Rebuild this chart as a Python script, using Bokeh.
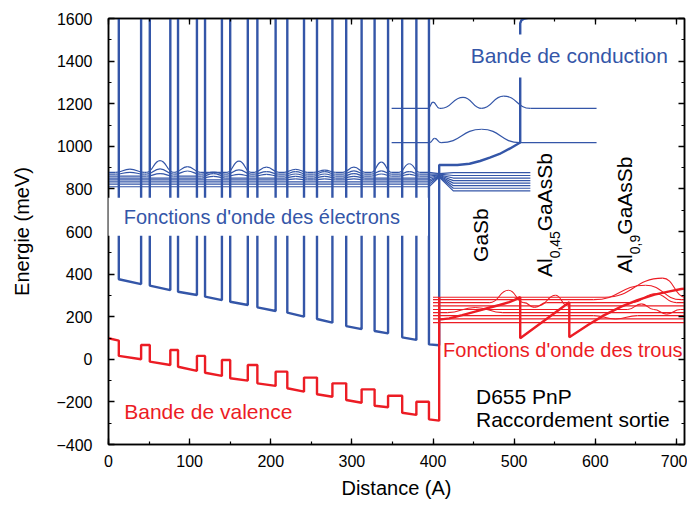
import math
from bokeh.plotting import figure
from bokeh.models import Label, LinearAxis, SingleIntervalTicker, Range1d, CustomLabelingPolicy
from bokeh.embed import file_html
from bokeh.resources import INLINE

BLUE = "#3456A8"
RED = "#EC1C24"
FONT = "Liberation Sans"

# ---------------- data ----------------
# superlattice wells (Angstrom) and band edges (meV)
well_left = [12.7, 50.9, 85.7, 119.0, 150.0, 183.5, 220.4, 257.0, 293.0, 328.0, 362.0, 395.0]
well_right = [40.2, 76.2, 109.0, 139.8, 171.7, 206.0, 241.0, 276.0, 312.0, 344.6, 379.5, 407.6]
cb_well_left = [376, 346, 317, 294, 270, 244, 219, 189, 156, 133, 103, 70]
cb_well_right = [353, 325, 302, 278, 255, 227, 200, 172, 142, 122, 91, 66]
cb_barrier = 2000  # barrier conduction band, above the plotted range
vb_well_left = [16, -11, -35, -63, -89, -113, -136, -164, -191, -218, -251, -282]
vb_well_right = [0, -27, -54, -78, -100, -125, -152, -176, -204, -225, -261, -288]
vb_barrier = [67, 44, 16, -3, -27, -58, -86, -113, -141, -171, -199]
vb_start_x = [0.0, 12.7]
vb_start_y = [99, 88]

# GaSb / AlGaAsSb conduction band
cb_out_x = [407.6, 430, 445, 458, 470, 482, 495, 507.5, 507.5, 509, 513, 520]
cb_out_y = [912, 912, 918, 931, 947, 964, 990, 1018, 1578, 1592, 1600, 1606]

# GaSb / AlGaAsSb valence band
vb_out_x = [407.6, 407.6, 407.6, 420, 436, 452, 469, 482, 494, 500, 507.5, 507.5,
            568, 568, 591, 610, 632, 652, 673, 690, 706, 720]
vb_out_y = [-288, 291, 186, 192, 207, 224, 242, 255, 268, 278, 292, 99,
            268, 104, 161, 205, 247, 278, 304, 318, 330, 335]

# electron wavefunctions (baseline levels, meV)
elec_level_left = [878, 869, 860, 851, 842, 833, 822, 810]
elec_level_knot = [872, 869, 866, 864, 862, 860, 858, 856]
elec_level_right = [876, 863, 851, 839, 827, 815, 803, 791]
elec_x_start, elec_x_flat_end, elec_x_knot, elec_x_spread, elec_x_end = 0, 395, 407.6, 425, 520
# bumps: well index, level index, amplitude (meV)
elec_bump_well = [0, 0, 1, 1, 1, 2, 2, 3, 3, 3, 4, 4, 4, 5, 5, 5, 6, 6, 6, 6,
                  7, 7, 7, 7, 8, 8, 8, 8, 9, 9, 9, 10, 10, 10, 6, 7, 8]
elec_bump_level = [0, 1, 0, 1, 2, 0, 1, 1, 2, 3, 0, 1, 2, 0, 1, 2, 0, 1, 2, 3,
                   0, 1, 2, 3, 0, 1, 2, 3, 0, 1, 2, 0, 1, 2, 4, 4, 4]
elec_bump_amp = [15, 9, 55, 25, 12, 27, 15, 10, 12, 8, 52, 20, 8, 24, 12, 8, 14, 12, 10, 8,
                 10, 12, 10, 8, 24, 16, 12, 8, 48, 16, 10, 40, 12, 8, 5, 5, 5]

# upper electron states
upper_levels = [1178, 1017]
upper_x = [349, 601.6]
upper_bump_level = [0, 0, 0, 1, 1]
upper_bump_left = [394, 410, 460, 396, 410]
upper_bump_peak = [400, 437, 487, 402, 460]
upper_bump_right = [408, 460, 520, 410, 507]
upper_bump_amp = [29, 52, 58, 20, 63]

# hole wavefunctions
hole_levels = [291, 280, 266, 251, 234, 219, 205, 190, 172]
hole_x = [400, 720]
hole_bump_level = [2, 2, 5, 3, 0, 1, 2, 4, 4, 6]
hole_bump_left = [470, 512, 418, 530, 612, 598, 645, 640, 672, 598]
hole_bump_peak = [493, 525, 452, 551, 683, 662, 674, 657, 688, 625]
hole_bump_right = [512, 540, 486, 566, 712, 706, 700, 672, 705, 652]
hole_bump_amp = [58, -22, 24, 50, 90, 68, 42, 26, -22, -16]

# ---------------- figure ----------------
p = figure(width=687, height=504, x_range=Range1d(0, 710), y_range=Range1d(-400, 1600),
           output_backend="svg", toolbar_location=None,
           min_border_left=108, min_border_right=3, min_border_top=18, min_border_bottom=60,
           outline_line_color="black", outline_line_width=1.5)
p.xgrid.visible = False
p.ygrid.visible = False

bottom = p.below[0]
left = p.left[0]
xt = SingleIntervalTicker(interval=100, num_minor_ticks=2)
yt = SingleIntervalTicker(interval=200, num_minor_ticks=2)
bottom.ticker = xt
left.ticker = yt

hide_all = CustomLabelingPolicy(code="""
    for (const i of indices) { indices.unset(i) }
    return indices
""")
top = LinearAxis(ticker=xt, major_label_policy=hide_all, major_label_standoff=0)
right = LinearAxis(ticker=yt, major_label_policy=hide_all, major_label_standoff=0)
p.add_layout(top, "above")
p.add_layout(right, "right")

for ax in (bottom, left, top, right):
    ax.axis_line_color = "black"
    ax.axis_line_width = 1.5
    ax.major_tick_in = 6
    ax.major_tick_out = 0
    ax.minor_tick_in = 3
    ax.minor_tick_out = 0
    ax.major_tick_line_width = 1.3
    ax.minor_tick_line_width = 1.2
    ax.major_label_text_font = FONT
    ax.major_label_text_font_size = "16px"
    ax.major_label_text_color = "black"
    ax.axis_label_text_font = FONT
    ax.axis_label_text_font_style = "normal"
    ax.axis_label_text_color = "black"
for ax in (top, right):
    ax.major_label_text_font_size = "0px"

bottom.axis_label = "Distance (A)"
bottom.axis_label_text_font_size = "20px"
bottom.major_label_standoff = 10
bottom.axis_label_standoff = 7
left.axis_label = "Energie (meV)"
left.axis_label_text_font_size = "20px"
left.major_label_standoff = 16
left.axis_label_standoff = 20


# ---------------- helpers ----------------
def add_bumps(lefts, peaks, rights, bases, amps, color, width):
    x0, y0, x1, y1, cx0, cy0, cx1, cy1 = [], [], [], [], [], [], [], []
    for l, c, r, b, a in zip(lefts, peaks, rights, bases, amps):
        # rising half
        x0.append(l); y0.append(b); x1.append(c); y1.append(b + a)
        cx0.append(l + (c - l) * 0.5); cy0.append(b); cx1.append(c - (c - l) * 0.5); cy1.append(b + a)
        # falling half
        x0.append(c); y0.append(b + a); x1.append(r); y1.append(b)
        cx0.append(c + (r - c) * 0.5); cy0.append(b + a); cx1.append(r - (r - c) * 0.5); cy1.append(b)
    p.bezier(x0=x0, y0=y0, x1=x1, y1=y1, cx0=cx0, cy0=cy0, cx1=cx1, cy1=cy1,
             line_color=color, line_width=width)


def gaps(x_start, x_end, intervals):
    segs = []
    cur = x_start
    for l, r in sorted(intervals):
        if l > cur:
            segs.append((cur, l))
        cur = max(cur, r)
    if x_end > cur:
        segs.append((cur, x_end))
    return segs


# ---------------- conduction band (superlattice + output) ----------------
cbx, cby = [], []
for i in range(len(well_left)):
    cbx += [well_left[i], well_left[i], well_right[i]]
    cby += [cb_barrier, cb_well_left[i], cb_well_right[i]]
    if i < len(well_left) - 1:
        cbx.append(well_right[i]); cby.append(cb_barrier)
cbx += cb_out_x
cby += cb_out_y
p.line(cbx, cby, line_color=BLUE, line_width=2.4)

# ---------------- valence band ----------------
vbx, vby = list(vb_start_x), list(vb_start_y)
for i in range(len(well_left)):
    vbx += [well_left[i], well_right[i]]
    vby += [vb_well_left[i], vb_well_right[i]]
    if i < len(vb_barrier):
        vbx += [well_right[i], well_left[i + 1]]
        vby += [vb_barrier[i], vb_barrier[i]]
vbx += vb_out_x
vby += vb_out_y
p.line(vbx, vby, line_color=RED, line_width=2.4)

# ---------------- electron wavefunctions ----------------
bl, bp, br, bb, ba = [], [], [], [], []
for w, lv, a in zip(elec_bump_well, elec_bump_level, elec_bump_amp):
    bl.append(well_left[w] - 4)
    br.append(well_right[w] + 4)
    bp.append((well_left[w] + well_right[w]) / 2)
    bb.append(elec_level_left[lv])
    ba.append(a)
add_bumps(bl, bp, br, bb, ba, BLUE, 1.2)
exs, eys = [], []
for lv in range(len(elec_level_left)):
    ints = [(bl[k], br[k]) for k in range(len(bl)) if elec_bump_level[k] == lv]
    segs = gaps(elec_x_start, elec_x_flat_end, ints)
    for s0, s1 in segs[:-1]:
        exs.append([s0, s1]); eys.append([elec_level_left[lv]] * 2)
    s0, s1 = segs[-1]
    exs.append([s0, s1, elec_x_knot, elec_x_spread, elec_x_end])
    eys.append([elec_level_left[lv], elec_level_left[lv], elec_level_knot[lv],
                elec_level_right[lv], elec_level_right[lv]])
p.multi_line(exs, eys, line_color=BLUE, line_width=1.2)

# ---------------- upper electron states ----------------
ub = [upper_levels[lv] for lv in upper_bump_level]
add_bumps(upper_bump_left, upper_bump_peak, upper_bump_right, ub, upper_bump_amp, BLUE, 1.2)
uxs, uys = [], []
for lv, E in enumerate(upper_levels):
    ints = [(upper_bump_left[k], upper_bump_right[k]) for k in range(len(upper_bump_level))
            if upper_bump_level[k] == lv]
    for s0, s1 in gaps(upper_x[0], upper_x[1], ints):
        uxs.append([s0, s1]); uys.append([E, E])
p.multi_line(uxs, uys, line_color=BLUE, line_width=1.2)

# ---------------- hole wavefunctions ----------------
hb = [hole_levels[lv] for lv in hole_bump_level]
add_bumps(hole_bump_left, hole_bump_peak, hole_bump_right, hb, hole_bump_amp, RED, 1.1)
hxs, hys = [], []
for lv, E in enumerate(hole_levels):
    ints = [(hole_bump_left[k], hole_bump_right[k]) for k in range(len(hole_bump_level))
            if hole_bump_level[k] == lv]
    for s0, s1 in gaps(hole_x[0], hole_x[1], ints):
        hxs.append([s0, s1]); hys.append([E, E])
p.multi_line(hxs, hys, line_color=RED, line_width=1.1)

# ---------------- labels ----------------
def lab(x, y, text, color, size="21px", align="left", **kw):
    p.add_layout(Label(x=x, y=y, text=text, text_color=color, text_font=FONT,
                       text_font_size=size, text_align=align, text_baseline="middle", **kw))

lab(568, 1424, "Bande de conduction", BLUE, align="center",
    background_fill_color="white", padding=dict(left=3, right=3, top=10, bottom=10))
lab(194, 669, "Fonctions d'onde des électrons", BLUE, size="20px", align="center",
    background_fill_color="white", padding=dict(left=20, right=28, top=8, bottom=8))
lab(123, -246, "Bande de valence", RED, align="center")
lab(560, 44, "Fonctions d'onde des trous", RED, size="20px", align="center")
lab(453, -176, "D655 PnP", "black")
lab(453, -282, "Raccordement sortie", "black")

def vlab(x, y, text, size="21px", xoff=0):
    p.add_layout(Label(x=x, y=y, text=text, angle=math.pi / 2, text_color="black",
                       text_font=FONT, text_font_size=size, text_align="left",
                       text_baseline="middle", x_offset=xoff))

vlab(459, 457, "GaSb")
vlab(537.6, 386, "Al")
vlab(537.6, 474, "0,45", size="14px", xoff=10)
vlab(537.6, 601, "GaAsSb")
vlab(636.5, 405, "Al")
vlab(636.5, 493, "0,9", size="14px", xoff=10)
vlab(636.5, 585, "GaAsSb")

open("out.html", "w").write(file_html(p, INLINE))
